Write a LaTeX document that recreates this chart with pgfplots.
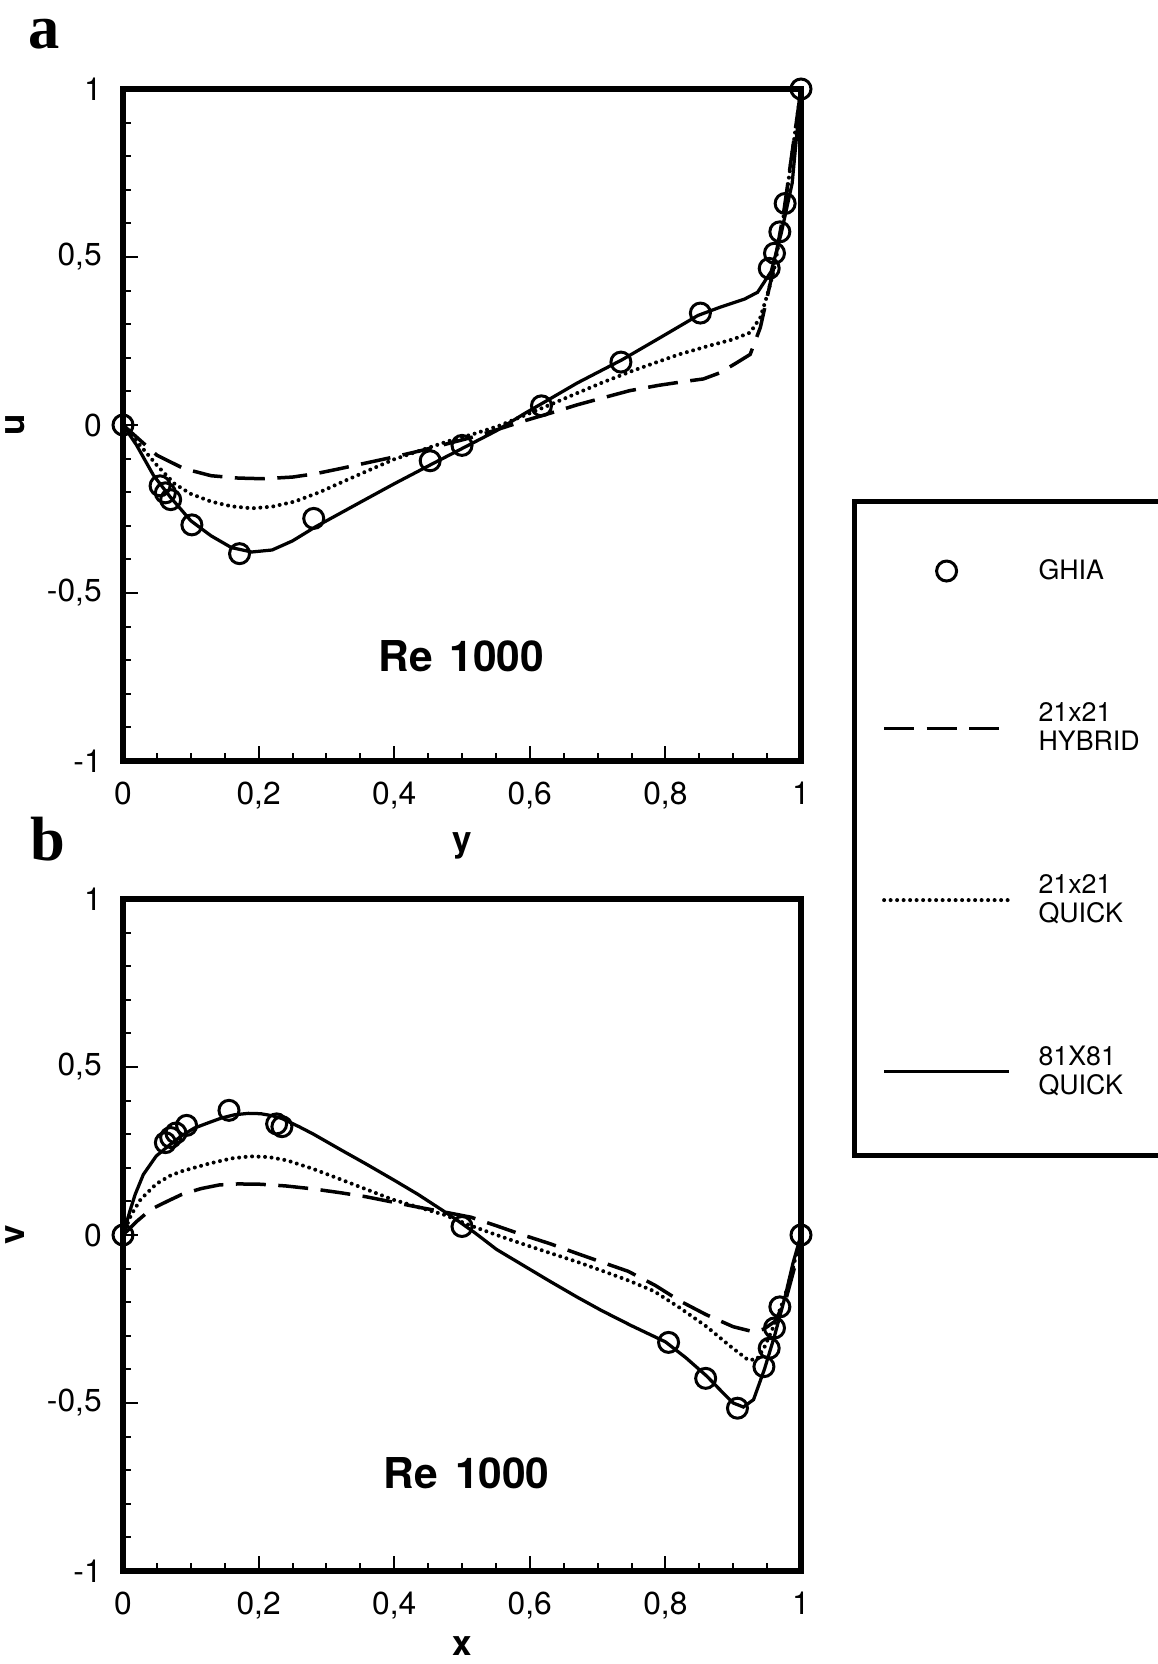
\documentclass[border=0pt]{standalone}
\usepackage{fontspec}
\setmainfont{TeX Gyre Heros}
\newfontfamily\serifb{Liberation Serif}
\usepackage{pgfplots}
\pgfplotsset{compat=1.18}
\pgfplotsset{
  cavity/.style={
    scale only axis, width=271.2pt, height=268.8pt, anchor=south west,
    xmin=0, xmax=1, ymin=-1, ymax=1, clip=false,
    axis line style={line width=2.2pt},
    xtick={0,0.2,0.4,0.6,0.8,1}, xticklabels={0,{0,2},{0,4},{0,6},{0,8},1},
    ytick={-1,-0.5,0,0.5,1}, yticklabels={-1,{-0,5},0,{0,5},1},
    minor x tick num=3, minor y tick num=4,
    xtick pos=lower, ytick pos=left, tick align=inside,
    major tick length=6pt, minor tick length=3pt,
    every tick/.style={black, line width=0.8pt},
    ticklabel style={font=\fontsize{12.7}{14}\selectfont},
    yticklabel style={xshift=-5pt},
    xticklabel style={yshift=-5pt},
    label style={font=\fontsize{14}{16}\selectfont\bfseries},
    ylabel style={at={(axis description cs:-0.159,0.5)}, anchor=center},
    legend image code/.code={\draw[mark repeat=2,mark phase=2,#1] plot coordinates {(0pt,0pt)(25pt,0pt)(50pt,0pt)};},
  },
  ghia/.style={only marks, mark=o, mark size=4pt, black, mark options={line width=1.2pt}},
  hyb/.style={black, line width=1.4pt, dash pattern=on 12pt off 5pt},
  qk/.style={black, line width=1.6pt, line cap=round, dash pattern=on 0pt off 2.6pt},
  qk81/.style={black, line width=1.3pt},
}
\begin{document}
\begin{tikzpicture}
\useasboundingbox (0,0) rectangle (462.8pt,665.6pt);
\node[font=\serifb\bfseries\fontsize{25}{28}\selectfont] at (17.5pt,652pt) {a};
\node[font=\serifb\bfseries\fontsize{25}{28}\selectfont] at (19.2pt,330pt) {b};
% ---------------- top axis ----------------
\begin{axis}[cavity, at={(49.2pt,361.2pt)},
  xlabel={y}, ylabel={u},
  xlabel style={at={(axis description cs:0.5,-0.1265)}, anchor=center},
  legend style={at={(rel axis cs:1.075,0.39)}, anchor=north west, draw=black, line width=2.2pt,
    inner xsep=11pt, inner ysep=23pt, row sep=48pt, column sep=11pt,
    font=\fontsize{10.7}{11.5}\selectfont,
    nodes={align=left, inner sep=0pt}, cells={anchor=west}},
]
\addplot[ghia] coordinates {
(0,0) (0.0547,-0.18109) (0.0625,-0.20196) (0.0703,-0.2222) (0.1016,-0.2973)
(0.1719,-0.38289) (0.2813,-0.27805) (0.4531,-0.10648) (0.5,-0.0608)
(0.6172,0.05702) (0.7344,0.18719) (0.8516,0.33304) (0.9531,0.46604)
(0.9609,0.51117) (0.9688,0.57492) (0.9766,0.65928) (1,1)};
\addlegendentry{GHIA}
\addplot[hyb] coordinates {
(0,0) (0.025,-0.045) (0.05,-0.09) (0.09,-0.13) (0.13,-0.151) (0.17,-0.158)
(0.207,-0.16) (0.25,-0.155) (0.284,-0.145) (0.32,-0.13) (0.361,-0.112)
(0.40,-0.095) (0.438,-0.077) (0.48,-0.055) (0.516,-0.036) (0.55,-0.015)
(0.593,0.013) (0.63,0.035) (0.67,0.06) (0.71,0.082) (0.747,0.102)
(0.79,0.118) (0.83,0.13) (0.856,0.137) (0.88,0.155) (0.905,0.185)
(0.925,0.21) (0.94,0.29) (0.95,0.38) (0.96,0.47) (0.975,0.64) (1,1)};
\addlegendentry{21x21\\HYBRID}
\addplot[qk] coordinates {
(0,0) (0.025,-0.06) (0.05,-0.12) (0.076,-0.175) (0.10,-0.205) (0.13,-0.228)
(0.16,-0.242) (0.19,-0.248) (0.22,-0.243) (0.253,-0.228) (0.29,-0.2)
(0.323,-0.17) (0.36,-0.137) (0.4,-0.102) (0.44,-0.075) (0.477,-0.05)
(0.52,-0.025) (0.554,-0.003) (0.6,0.035) (0.632,0.062) (0.67,0.095)
(0.709,0.128) (0.75,0.16) (0.786,0.186) (0.82,0.21) (0.863,0.235)
(0.9,0.255) (0.925,0.275) (0.94,0.32) (0.95,0.385) (0.96,0.46) (0.975,0.63) (1,1)};
\addlegendentry{21x21\\QUICK}
\addplot[qk81] coordinates {
(0,0) (0.02,-0.06) (0.045,-0.15) (0.07,-0.215) (0.1,-0.285) (0.13,-0.33)
(0.16,-0.365) (0.19,-0.378) (0.22,-0.372) (0.25,-0.345) (0.284,-0.303)
(0.35,-0.23) (0.40,-0.175) (0.454,-0.118) (0.504,-0.066) (0.55,-0.018)
(0.593,0.035) (0.624,0.071) (0.67,0.125) (0.736,0.194) (0.794,0.262)
(0.848,0.326) (0.88,0.35) (0.917,0.375) (0.936,0.395) (0.956,0.457)
(0.971,0.572) (0.987,0.72) (1,1)};
\addlegendentry{81X81\\QUICK}
\node[font=\fontsize{17}{19}\selectfont\bfseries] at (axis cs:0.499,-0.689) {Re\hspace{0.4em}1000};
\end{axis}
% ---------------- bottom axis ----------------
\begin{axis}[cavity, at={(49.2pt,37.2pt)},
  xlabel={x}, ylabel={v},
  xlabel style={at={(axis description cs:0.5,-0.112)}, anchor=center},
]
\addplot[ghia] coordinates {
(0,0) (0.0625,0.27485) (0.0703,0.29012) (0.0781,0.30353) (0.0938,0.32627)
(0.1563,0.37095) (0.2266,0.33075) (0.2344,0.32235) (0.5,0.02526)
(0.8047,-0.31966) (0.8594,-0.42665) (0.9063,-0.5155) (0.9453,-0.39188)
(0.9531,-0.33714) (0.9609,-0.27669) (0.9688,-0.21388) (1,0)};
\addplot[hyb] coordinates {
(0,0) (0.02,0.04) (0.041,0.076) (0.065,0.1) (0.087,0.121) (0.115,0.138)
(0.142,0.149) (0.17,0.152) (0.203,0.151) (0.24,0.146) (0.281,0.137)
(0.32,0.126) (0.358,0.114) (0.4,0.097) (0.435,0.083) (0.475,0.068)
(0.513,0.053) (0.55,0.028) (0.59,0) (0.63,-0.026) (0.667,-0.053)
(0.705,-0.08) (0.745,-0.108) (0.785,-0.15) (0.822,-0.197) (0.86,-0.237)
(0.9,-0.273) (0.93,-0.288) (0.945,-0.28) (0.961,-0.258) (0.977,-0.197)
(0.99,-0.1) (1,0)};
\addplot[qk] coordinates {
(0,0) (0.012,0.06) (0.026,0.106) (0.049,0.152) (0.07,0.177) (0.087,0.19)
(0.126,0.212) (0.16,0.228) (0.188,0.234) (0.215,0.232) (0.242,0.222)
(0.28,0.197) (0.319,0.167) (0.36,0.135) (0.397,0.106) (0.44,0.08)
(0.474,0.06) (0.51,0.03) (0.551,0) (0.59,-0.027) (0.629,-0.053)
(0.67,-0.08) (0.706,-0.106) (0.745,-0.135) (0.783,-0.167) (0.82,-0.215)
(0.861,-0.273) (0.895,-0.33) (0.922,-0.372) (0.935,-0.37) (0.946,-0.334)
(0.96,-0.27) (0.975,-0.19) (0.988,-0.1) (1,0)};
\addplot[qk81] coordinates {
(0,0) (0.01,0.07) (0.018,0.121) (0.03,0.18) (0.049,0.235) (0.07,0.27)
(0.087,0.296) (0.105,0.318) (0.126,0.334) (0.145,0.348) (0.165,0.358)
(0.185,0.362) (0.203,0.361) (0.22,0.355) (0.234,0.347) (0.26,0.322)
(0.281,0.3) (0.32,0.255) (0.358,0.212) (0.4,0.163) (0.435,0.121)
(0.47,0.075) (0.49,0.048) (0.52,0.005) (0.551,-0.043) (0.59,-0.09)
(0.629,-0.137) (0.67,-0.185) (0.706,-0.225) (0.75,-0.27) (0.8,-0.318)
(0.83,-0.365) (0.861,-0.42) (0.885,-0.47) (0.9,-0.5) (0.915,-0.512)
(0.93,-0.49) (0.946,-0.4) (0.961,-0.3) (0.977,-0.18) (0.988,-0.085) (1,0)};
\node[font=\fontsize{17}{19}\selectfont\bfseries] at (axis cs:0.507,-0.708) {Re\hspace{0.4em}1000};
\end{axis}
\end{tikzpicture}
\end{document}
